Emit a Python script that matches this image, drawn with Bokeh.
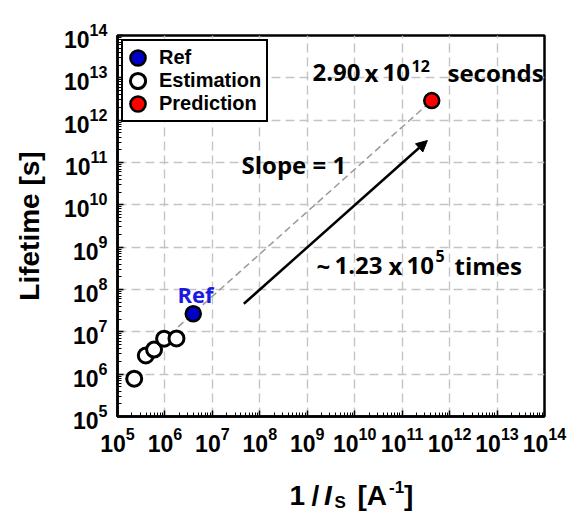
import math
from bokeh.plotting import figure
from bokeh.layouts import column
from bokeh.models import (Label, Legend, LegendItem, FixedTicker, LogTickFormatter,
                          Arrow, NormalHead, Range1d)
from bokeh.embed import file_html
from bokeh.resources import INLINE

# ---------------- data ----------------
est_x = [2.25e5, 3.95e5, 5.9e5, 9.6e5, 1.75e6]
est_y = [7.8e5, 2.76e6, 3.8e6, 6.9e6, 7.0e6]
ref_x = [3.95e6]
ref_y = [2.67e7]
pred_x = [4.2e11]
pred_y = [2.9e12]
guide_x = [1.9e6, 4.2e11]             # slope-1 guide line x extent
arrow_from = [4.6e7, 4.6e7]
arrow_to = [3.4e11, 3.3e11]
exponents = list(range(5, 15))        # tick exponents 10^5 ... 10^14
legend_labels = ["Ref", "Estimation", "Prediction"]

# ---------------- layout geometry (page px) ----------------
PW = 583
FL, FR, FT, FB = 117, 544, 35, 416    # frame edges
H1 = 466                              # main figure height
H2 = 527 - H1                         # strip holding the x-axis title

p = figure(width=PW, height=H1, x_axis_type="log", y_axis_type="log",
           x_range=(1e5, 1e14), y_range=(1e5, 1e14),
           output_backend="svg", toolbar_location=None,
           min_border_left=FL, min_border_right=PW - FR,
           min_border_top=FT, min_border_bottom=H1 - FB)
p.background_fill_color = "white"
p.border_fill_color = "white"
p.outline_line_color = "black"
p.outline_line_width = 2.5
p.outline_line_alpha = 1.0

major = [10.0 ** e for e in exponents]
minor = [m * 10.0 ** e for e in exponents[:-1] for m in range(2, 10)]
for ax in (p.xaxis[0], p.yaxis[0]):
    ax.ticker = FixedTicker(ticks=major, minor_ticks=minor)
    ax.formatter = LogTickFormatter()
    ax.major_label_text_font = "Liberation Sans"
    ax.major_label_text_font_style = "bold"
    ax.major_label_text_font_size = "23px"
    ax.major_label_text_color = "black"
    ax.axis_line_width = 2.5
    ax.axis_line_color = "black"
    ax.major_tick_in = 6
    ax.major_tick_out = 0
    ax.minor_tick_in = 4
    ax.minor_tick_out = 0
    ax.major_tick_line_width = 1.5
    ax.minor_tick_line_width = 1
    ax.major_tick_line_color = "black"
    ax.minor_tick_line_color = "black"
    ax.major_label_standoff = 10
for g in (p.xgrid[0], p.ygrid[0]):
    g.ticker = FixedTicker(ticks=major)
    g.grid_line_color = "#c4c4c4"
    g.grid_line_dash = "9 5"
    g.grid_line_width = 1.4

yax = p.yaxis[0]
yax.axis_label = "Lifetime [s]"
yax.axis_label_text_font = "Liberation Sans"
yax.axis_label_text_font_style = "bold"
yax.axis_label_text_font_size = "28px"
yax.axis_label_text_color = "black"
yax.axis_label_standoff = 16

# ---------------- marks ----------------
k = pred_y[0] / pred_x[0]
guide_y = [k * x for x in guide_x]
p.line(guide_x, guide_y, line_color="#9a9a9a", line_dash="7 4", line_width=1.5)

p.add_layout(Arrow(end=NormalHead(size=11, fill_color="black", line_color="black", line_width=1),
                   x_start=arrow_from[0], y_start=arrow_from[1],
                   x_end=arrow_to[0], y_end=arrow_to[1],
                   line_color="black", line_width=2.5))

r_est = p.ellipse(x=est_x, y=est_y, width=15, height=15, width_units="screen",
                  height_units="screen", fill_color="white", line_color="black", line_width=3)
r_ref = p.ellipse(x=ref_x, y=ref_y, width=15, height=15, width_units="screen",
                  height_units="screen", fill_color="#0000c8", line_color="black", line_width=2.5)
r_pred = p.ellipse(x=pred_x, y=pred_y, width=15, height=15, width_units="screen",
                   height_units="screen", fill_color="#ff0000", line_color="black", line_width=2.5)

legend = Legend(items=[LegendItem(label=legend_labels[0], renderers=[r_ref]),
                       LegendItem(label=legend_labels[1], renderers=[r_est]),
                       LegendItem(label=legend_labels[2], renderers=[r_pred])],
                location="top_left")
legend.label_text_font = "Liberation Sans"
legend.label_text_font_style = "bold"
legend.label_text_font_size = "20px"
legend.label_text_color = "black"
legend.glyph_width = 19
legend.glyph_height = 19
legend.label_height = 19
legend.label_standoff = 12
legend.spacing = 0
legend.padding = 5
legend.margin = 4
legend.border_line_color = "black"
legend.border_line_width = 2
legend.border_line_alpha = 1.0
legend.background_fill_color = "white"
legend.background_fill_alpha = 1.0
p.add_layout(legend)

# ---------------- texts inside the frame ----------------


def X(px):
    return 10 ** (5 + 9 * (px - FL) / (FR - FL))


def Y(py):
    return 10 ** (5 + 9 * (FB - py) / (FB - FT))


def txt(fig, x, y, s, size, font="Open Sans", style="bold", color="black",
        align="left", baseline="alphabetic", angle=0.0):
    fig.add_layout(Label(x=x, y=y, text=s, text_font=font,
                         text_font_size=f"{size}px", text_font_style=style,
                         text_color=color, text_align=align, text_baseline=baseline,
                         angle=angle))


def ptxt(px, py, s, size, **kw):
    txt(p, X(px), Y(py), s, size, **kw)


# "2.90 x 10^12 seconds"
ptxt(312, 72, "2.90", 24)
ptxt(364, 72, "x", 24)
ptxt(382, 72, "10", 24)
ptxt(411, 65, "12", 16)
ptxt(447, 72, "seconds", 24)
# "Slope = 1"
ptxt(241, 163.5, "Slope = 1", 24)
# "~ 1.23 x 10^5 times"
ptxt(316, 265, "~", 24)
ptxt(334, 265, "1.23", 24)
ptxt(388, 265, "x", 24)
ptxt(406, 265, "10", 24)
ptxt(435, 255, "5", 16)
ptxt(454, 265, "times", 24)
# "Ref" tag
ptxt(177, 293.5, "Ref", 22, color="#1a1ae0")

# ---------------- x-axis title strip (frame aligned with the main frame) ----------------
p2 = figure(width=PW, height=H2, x_range=Range1d(FL, FR), y_range=Range1d(H2, 0),
            output_backend="svg", toolbar_location=None,
            x_axis_location=None, y_axis_location=None,
            min_border_left=FL, min_border_right=PW - FR,
            min_border_top=0, min_border_bottom=0)
p2.outline_line_color = None
p2.grid.visible = False
p2.background_fill_color = "white"
p2.border_fill_color = "white"

AF = "Liberation Sans"


def btxt(px, py, s, size, **kw):
    txt(p2, px, py - H1, s, size, font=AF, **kw)


btxt(289, 495, "1", 28)
btxt(311, 495, "/", 28)
btxt(323.5, 495, "I", 28, style="bold italic")
btxt(334, 501.5, "S", 17)
btxt(357, 495, "[A", 28)
btxt(388.5, 486.5, "-1", 17)
btxt(403.5, 495, "]", 28)

layout = column(p, p2, spacing=0)
open("out.html", "w").write(file_html(layout, INLINE))
